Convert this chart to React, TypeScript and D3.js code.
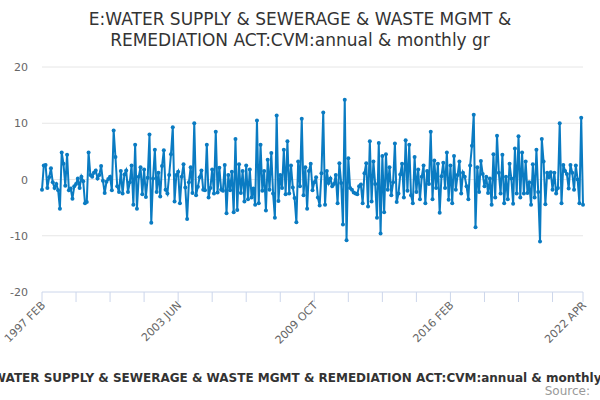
import * as d3 from "d3";

const title = ["E:WATER SUPPLY & SEWERAGE & WASTE MGMT &", "REMEDIATION ACT:CVM:annual & monthly gr"];
const seriesName = "E:WATER SUPPLY & SEWERAGE & WASTE MGMT & REMEDIATION ACT:CVM:annual & monthly gr";
const yTicks = [-20, -10, 0, 10, 20];
const tickLabels: { [i: number]: string } = { 0: "1997 FEB", 76: "2003 JUN", 152: "2009 OCT", 228: "2016 FEB", 302: "2022 APR" };

const values = [
  -1.8, 2.5, 2.6, -1.5, 0.4, 2, -0.5, -1.5, -0.8, -1.9, -5.2, 4.8, 2.8, -1.1, 4.4, -1.9, -1.6, -3.4, -1.2,
  -0.8, 0.2, -1.5, 0.5, -0.3, -4.2, -4, 4.8, 0.8, 0.5, 1.2, 1.6, 0.2, 0.8, 2.4, -0.2, -2.4, -0.4, 0.1,
  0.5, -1.9, 8.7, 4, -1.2, -2.2, 1.5, -2.5, 0.9, 1.6, -2.2, -0.5, 2.5, -4.5, 6.2, -5.2, 0.5, 2.2, -2.6,
  1.8, -3.1, 0.3, 8, -7.7, 0.2, 5.3, -2.2, 1.2, -3, 2.4, 5.2, -1.8, -2.5, 0.8, 4.5, 9.3, -3.9, 0.8,
  1.4, -4.2, 0.5, 2.7, -1.4, -7, -0.5, 2.2, -2.4, 10, -2.8, -1.3, 0.4, 1.6, -1.8, -1.9, 6.2, -3.2, -1.5,
  1.8, -2.5, 8.5, -2.3, 2.1, -1.8, -2, 2.6, -6, 0.8, -1.9, 1.4, -5.8, 7.2, -5.4, 2.7, -2.4, 1.5, -3.9,
  2.5, -3.5, 1.8, -3.2, -1.6, -4.5, 10.5, -4.2, 6.2, -2, 1.5, -5.5, 3.5, -1.8, 4.7, -2.5, -6.8, 11.4, -3.8,
  0.8, -1.5, 5.3, -2.6, 6.8, -2.5, 2.5, -1.4, -3.3, -7.6, 3.2, -1.2, 10.8, -2.8, 2.2, -5.2, 1.5, 2.8, -1.9,
  -0.5, 0.4, -3.2, -4.6, 1.1, 11.9, -4.5, 1.5, -0.6, 0.2, -1.2, -0.8, 0.8, -4.2, 2.9, -0.6, -8, 14.2, -10.8,
  3.8, -1.5, -1.8, -2.3, -2.5, -2.6, -1.2, -0.9, -4.2, 1.1, 2.9, -4.8, 6.8, -3.9, 3.2, -0.8, -6.8, 6.5, -9.6,
  4.2, -5.8, 4.5, -1.8, 2.2, -2.8, -0.5, 6.4, -4, -2.5, 0.9, 2.8, -3.2, 7, -2, 6.2, -2.8, -4.2, 4,
  -2.2, 1.8, -3.5, 0.5, 2.5, -4.2, 1.5, -0.8, 8.5, -3.5, 3.4, -1.5, 2.8, -5.9, 0.6, 3, -1.5, 4.8, -3.6,
  2.5, -4.2, 4.2, -1.8, 0.8, 3.2, -2.5, 1.2, 0.5, -1.2, -3.5, 2.5, 6, 11.5, -8.5, 2.2, -2.2, 3.3, 1,
  -1.2, 0.5, -2.4, 0.2, -4.5, 4.5, -3.2, 7.8, 1.2, -2.5, 4.4, -4.2, 0.5, -3.5, 2.8, 0.2, -4.3, 5.5, -2.5,
  7.7, -3.2, 4.8, -2.5, 3.2, -2.4, -0.5, -4.5, 2.7, -3.2, 5.3, -2.2, -11, 7.2, 3.2, -4.4, 1.2, 0.4, 1.3,
  -1.8, 1.2, -2.5, -1.5, 10, -4.2, 2.6, 1.5, 1, -1.6, 2.6, 1.2, -1.8, 2.5, 0, -4.2, 11, -4.5,
];

const width = 600;
const height = 400;
const left = 42;
const right = 583;
const top = 67;
const bottom = 292;

export default function App() {
  const x = d3.scaleLinear().domain([0, values.length - 1]).range([left, right]);
  const y = d3.scaleLinear().domain([-20, 20]).range([bottom, top]);
  const line = d3.line<number>().x((_, i) => x(i)).y((d) => y(d));
  const ticks = d3.range(0, values.length, 19).concat([values.length - 1]);
  const font = "DejaVu Sans, sans-serif";

  return (
    <svg width={width} height={height} style={{ position: "absolute", left: 0, top: 0 }} fontFamily={font}>
      <rect width={width} height={height} fill="#fff" />
      {title.map((t, i) => (
        <text key={t} x={300} y={25 + i * 21} textAnchor="middle" fontSize={17} fill="#333">{t}</text>
      ))}
      {yTicks.map((t) => (
        <g key={t}>
          {t !== -20 && <line x1={left} x2={right} y1={y(t)} y2={y(t)} stroke="#e6e6e6" />}
          <text x={28} y={y(t) + 4} textAnchor="end" fontSize={11} fill="#666">{t}</text>
        </g>
      ))}
      <line x1={left} x2={right} y1={bottom} y2={bottom} stroke="#ccd6eb" />
      {ticks.map((i) => (
        <line key={i} x1={x(i)} x2={x(i)} y1={bottom} y2={bottom + 10} stroke="#ccd6eb" />
      ))}
      {Object.entries(tickLabels).map(([i, l]) => (
        <text key={l} transform={`translate(${x(+i) + 4},${bottom + 14}) rotate(-45)`} textAnchor="end" fontSize={11} fill="#666">{l}</text>
      ))}
      <path d={line(values) || ""} fill="none" stroke="#0a7bc2" strokeWidth={2} />
      {values.map((v, i) => (
        <circle key={i} cx={x(i)} cy={y(v)} r={2} fill="#0a7bc2" />
      ))}
      <text x={300} y={382} textAnchor="middle" fontSize={12} fontWeight="bold" fill="#333">{seriesName}</text>
      <text x={590} y={395} textAnchor="end" fontSize={12} fill="#999">Source:</text>
    </svg>
  );
}
